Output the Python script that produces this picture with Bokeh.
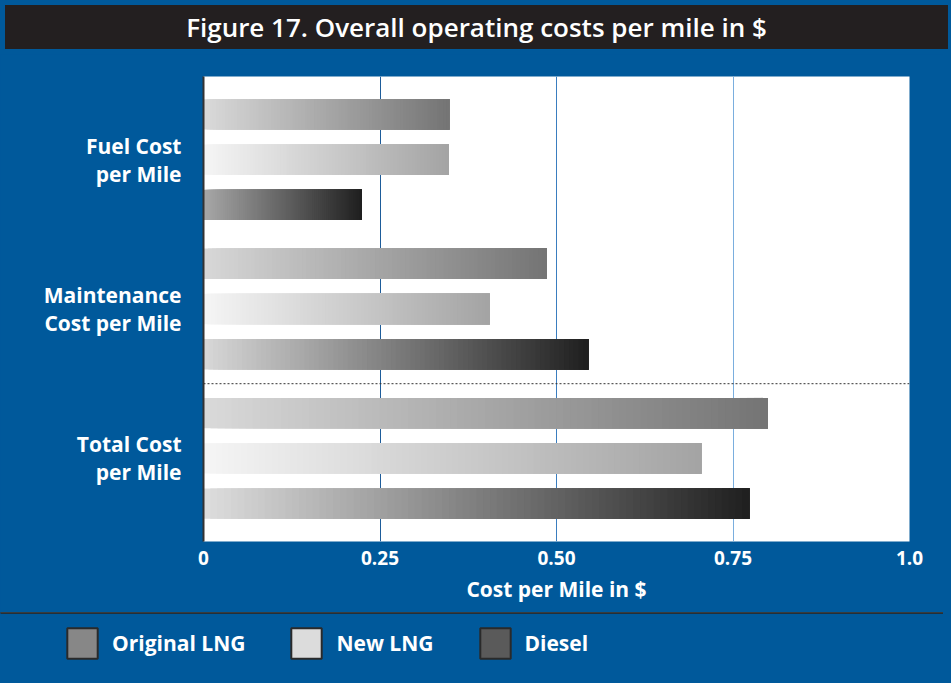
from bokeh.plotting import figure
from bokeh.models import (FactorRange, Range1d, ColumnDataSource, CategoricalAxis,
                          FixedTicker, Grid, Legend, LegendItem, Div)
from bokeh.transform import dodge
from bokeh.layouts import column
from bokeh.embed import file_html
from bokeh.resources import INLINE

# ---------------- data ----------------
groups = ["Fuel Cost\nper Mile", "Maintenance\nCost per Mile", "Total Cost\nper Mile"]
series = ["Original LNG", "New LNG", "Diesel"]
original_lng = [0.348, 0.486, 0.799]
new_lng = [0.347, 0.405, 0.705]
diesel = [0.224, 0.545, 0.773]
x_ticks = [0, 0.25, 0.5, 0.75, 1.0]
x_tick_labels = ["0", "0.25", "0.50", "0.75", "1.0"]
title_text = "Figure 17. Overall operating costs per mile in $"
x_title = "Cost per Mile in $"

values = {"Original LNG": original_lng, "New LNG": new_lng, "Diesel": diesel}

# ---------------- styles ----------------
BLUE = "#00599b"
DARK = "#231f20"
FONT = "Open Sans"
grad_right = {"Original LNG": "#747474", "New LNG": "#a3a3a3", "Diesel": "#1f1f1f"}
grad_left = {"Original LNG": ["#dadada", "#d8d8d8", "#dadada"],
             "New LNG": ["#f6f6f6", "#f6f6f6", "#f6f6f6"],
             "Diesel": ["#a8a8a8", "#d8d8d8", "#dedede"]}
swatch_colors = {"Original LNG": "#878787", "New LNG": "#dcdcdc", "Diesel": "#5a5a5a"}
grid_colors = ["#1d5c9a", "#3a7dbf", "#7aaede"]
N_SLICES = 80
W = 943


def hex2rgb(h):
    h = h.lstrip("#")
    return tuple(int(h[i:i + 2], 16) for i in (0, 2, 4))


def lerp(c0, c1, t):
    a, b = hex2rgb(c0), hex2rgb(c1)
    return "#%02x%02x%02x" % tuple(round(a[i] + (b[i] - a[i]) * t) for i in range(3))


factors = [(g, s) for g in reversed(groups) for s in reversed(series)]

# each bar = stack of overlapping pieces that all end at the value (gradient fill)
ys, lefts, rights, cols = [], [], [], []
for gi, g in enumerate(groups):
    for s in series:
        v = values[s][gi]
        c0, c1 = grad_left[s][gi], grad_right[s]
        for k in range(N_SLICES):
            ys.append((g, s))
            lefts.append(v * k / N_SLICES)
            rights.append(v)
            cols.append(lerp(c0, c1, (k + 0.5) / N_SLICES))
src = ColumnDataSource(dict(y=ys, left=lefts, right=rights, color=cols))

p = figure(width=W, height=560, output_backend="svg", toolbar_location=None,
           x_range=Range1d(x_ticks[0], x_ticks[-1]),
           y_range=FactorRange(*factors, group_padding=0.3, factor_padding=0.0,
                               range_padding=0.07),
           y_axis_location=None)
p.min_border_left = 203
p.min_border_right = 34
p.min_border_top = 22
p.min_border_bottom = 73
p.border_fill_color = BLUE
p.background_fill_color = "white"
p.outline_line_color = None
p.xgrid.visible = False
p.ygrid.visible = False

for t, c in zip(x_ticks[1:4], grid_colors):
    p.add_layout(Grid(dimension=0, ticker=FixedTicker(ticks=[t]), grid_line_color=c,
                      grid_line_width=1))

p.hbar(y="y", left="left", right="right", height=0.67, fill_color="color",
       line_color=None, source=src)

# dotted separator between maintenance and total groups
sep = ColumnDataSource(dict(y=[(groups[2], series[0])], x0=[x_ticks[0]], x1=[x_ticks[-1]]))
p.segment(x0="x0", x1="x1", y0=dodge("y", 0.65, range=p.y_range),
          y1=dodge("y", 0.65, range=p.y_range), line_color="#333333", line_width=1,
          line_dash="2 2", source=sep)

# x axis
xa = p.xaxis[0]
xa.ticker = FixedTicker(ticks=x_ticks)
xa.major_label_overrides = {t: l for t, l in zip(x_ticks, x_tick_labels)}
xa.axis_line_color = None
xa.major_tick_line_color = None
xa.minor_tick_line_color = None
xa.major_label_text_color = "white"
xa.major_label_text_font = FONT
xa.major_label_text_font_style = "bold"
xa.major_label_text_font_size = "19px"
xa.major_label_standoff = 3
xa.axis_label = x_title
xa.axis_label_text_color = "white"
xa.axis_label_text_font = FONT
xa.axis_label_text_font_style = "bold"
xa.axis_label_text_font_size = "21px"
xa.axis_label_standoff = 7

ca = CategoricalAxis(major_tick_line_color=None, major_tick_out=0, major_tick_in=0,
                     major_label_text_font_size="0px", axis_line_color="#333333",
                     axis_line_width=2,
                     separator_line_color=None, major_label_standoff=22,
                     group_label_orientation="horizontal",
                     group_text_font=FONT, group_text_font_style="bold",
                     group_text_font_size="21px", group_text_color="white",
                     group_text_line_height=1.0)
p.add_layout(ca, "left")

# legend strip (separate plot so the legend is not clipped); transparent so the
# blue page background shows through without edge seams
lg = figure(width=W, height=71, output_backend="svg", toolbar_location=None,
            x_range=Range1d(0, 1), y_range=Range1d(0, 1),
            x_axis_location=None, y_axis_location=None, min_border=0,
            styles={"margin-top": "-2px"})
lg.frame_align = False
lg.border_fill_color = None
lg.background_fill_color = None
lg.outline_line_color = None
lg.xgrid.visible = False
lg.ygrid.visible = False
dummies = []
for s in series:
    # one off-screen bar per series: only its legend swatch is shown
    r = lg.hbar(y=[5], left=[0], right=[1], height=0.5, fill_color=swatch_colors[s],
                line_color="#2a2a2a", line_width=2)
    dummies.append(r)
legend = Legend(items=[LegendItem(label=s, renderers=[r]) for s, r in zip(series, dummies)],
                orientation="horizontal", location=(63, 21), glyph_width=38,
                glyph_height=38, label_standoff=11, spacing=42, padding=0, margin=0,
                border_line_color=None, background_fill_alpha=0,
                label_text_color="white", label_text_font=FONT,
                label_text_font_style="bold", label_text_font_size="21px")
lg.add_layout(legend)

title = Div(text=('<div style="width:%dpx;height:44px;line-height:44px;background:%s;'
                  'color:white;text-align:center;font-family:\'Open Sans\';font-weight:600;'
                  'font-size:26px;">%s</div>') % (W, DARK, title_text),
            width=W, height=44)

layout = column(title, p, lg, spacing=0, styles={"background-color": BLUE})
open("out.html", "w").write(file_html(layout, INLINE))
